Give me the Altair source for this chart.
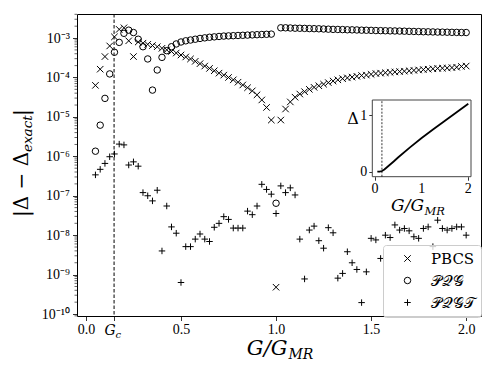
import altair as alt
import pandas as pd

# ---------------- data ----------------
G = [0.05, 0.075, 0.1, 0.125, 0.15, 0.175, 0.2, 0.225, 0.25, 0.275,
     0.3, 0.325, 0.35, 0.375, 0.4, 0.425, 0.45, 0.475, 0.5, 0.525,
     0.55, 0.575, 0.6, 0.625, 0.65, 0.675, 0.7, 0.725, 0.75, 0.775,
     0.8, 0.825, 0.85, 0.875, 0.9, 0.925, 0.95, 0.975, 1.0, 1.025,
     1.05, 1.075, 1.1, 1.125, 1.15, 1.175, 1.2, 1.225, 1.25, 1.275,
     1.3, 1.325, 1.35, 1.375, 1.4, 1.425, 1.45, 1.475, 1.5, 1.525,
     1.55, 1.575, 1.6, 1.625, 1.65, 1.675, 1.7, 1.725, 1.75, 1.775,
     1.8, 1.825, 1.85, 1.875, 1.9, 1.925, 1.95, 1.975, 2.0]

# log10 of |Delta - Delta_exact|
pbcs_log10 = [-4.20, -3.79, -3.47, -3.20, -2.97, -2.78, -2.74, -3.07, -3.47, -3.10,
              -3.13, -3.16, -3.19, -3.22, -3.26, -3.30, -3.34, -3.38, -3.43, -3.48,
              -3.53, -3.59, -3.65, -3.71, -3.77, -3.83, -3.89, -3.94, -4.00, -4.06,
              -4.12, -4.19, -4.26, -4.34, -4.44, -4.57, -4.76, -5.08, -9.32, -5.08,
              -4.80, -4.62, -4.50, -4.42, -4.36, -4.30, -4.25, -4.21, -4.17, -4.13,
              -4.09, -4.06, -4.03, -4.01, -3.99, -3.97, -3.95, -3.94, -3.92, -3.90,
              -3.89, -3.88, -3.87, -3.86, -3.85, -3.84, -3.83, -3.82, -3.81, -3.80,
              -3.79, -3.78, -3.77, -3.765, -3.76, -3.75, -3.74, -3.72, -3.71]

pqg_log10 = [-5.87, -5.21, -4.53, -3.91, -3.36, -3.11, -2.88, -2.80, -2.86, -3.03,
             -3.22, -3.53, -4.32, -3.81, -3.49, -3.32, -3.22, -3.15, -3.10, -3.07,
             -3.05, -3.03, -3.01, -2.995, -2.98, -2.97, -2.96, -2.95, -2.945, -2.94,
             -2.935, -2.93, -2.925, -2.92, -2.915, -2.91, -2.905, -2.90, -7.19, -2.74,
             -2.74, -2.745, -2.75, -2.752, -2.755, -2.76, -2.762, -2.765, -2.77, -2.775,
             -2.78, -2.782, -2.785, -2.79, -2.792, -2.795, -2.80, -2.802, -2.805, -2.81,
             -2.812, -2.815, -2.818, -2.82, -2.823, -2.826, -2.83, -2.833, -2.836, -2.84,
             -2.842, -2.845, -2.848, -2.85, -2.852, -2.855, -2.857, -2.86, -2.86]

pqgt_log10 = [-6.47, -6.33, -6.18, -6.01, -5.94, -5.69, -5.71, -6.22, -6.14, -6.25,
              -6.92, -7.00, -7.13, -6.86, -8.40, -7.26, -7.79, -7.95, -9.20, -8.29,
              -8.29, -8.10, -7.97, -8.10, -8.16, -7.80, -7.70, -7.53, -7.60, -7.82,
              -7.82, -7.82, -7.39, -7.48, -7.26, -6.71, -6.84, -6.96, -7.45, -6.75,
              -6.92, -6.80, -6.98, -8.10, -9.11, -7.87, -7.77, -8.14, -8.33, -7.81,
              -7.94, -9.09, -8.97, -8.42, -8.70, -8.87, -9.71, -8.93, -8.08, -8.12,
              -8.59, -8.00, -8.06, -7.74, -7.87, -7.83, -7.89, -8.04, -8.08, -7.83,
              -7.79, -8.29, -7.62, -7.83, -7.87, -7.83, -7.79, -7.79, -8.00]

series_names = ["PBCS", "𝒫𝒬𝒢", "𝒫𝒬𝒢𝒯"]

inset_G = [0.05, 0.10, 0.15, 0.20, 0.25, 0.30, 0.40, 0.50, 0.75, 1.00, 1.25, 1.50, 1.75, 2.00]
inset_delta = [0.0, 0.003, 0.012, 0.04, 0.075, 0.11, 0.18, 0.255, 0.43, 0.595, 0.75, 0.90, 1.05, 1.20]

Gc = 0.148
x_tick_values = [0.0, 0.5, 1.0, 1.5, 2.0]
y_exponents = [-10, -9, -8, -7, -6, -5, -4, -3]
inset_x_ticks = [0, 1, 2]
inset_y_ticks = [0, 1]

# ---------------- build tables ----------------
rows = []
for name, vals in zip(series_names, [pbcs_log10, pqg_log10, pqgt_log10]):
    for g, v in zip(G, vals):
        rows.append({"G": g, "err": 10.0 ** v, "series": name})
df = pd.DataFrame(rows)
inset_df = pd.DataFrame({"G": inset_G, "D": inset_delta})
one = pd.DataFrame({"a": [0]})

X_PATH = "M-1,-1L1,1M-1,1L1,-1"
PLUS_PATH = "M-1,0L1,0M0,-1L0,1"

XD = [-0.047, 2.078]
YD = [10 ** -10.05, 10 ** -2.39]
xs = alt.Scale(domain=XD, nice=False, zero=False)
ys = alt.Scale(type="log", domain=YD, nice=False)

minor_vals = [m * 10.0 ** e for e in range(-11, -2) for m in range(2, 10)
              if YD[0] <= m * 10.0 ** e <= YD[1]]

NUM_FONT = "Liberation Serif"
TXT_FONT = "DejaVu Serif"

sup = ["⁻¹⁰", "⁻⁹", "⁻⁸", "⁻⁷", "⁻⁶", "⁻⁵", "⁻⁴", "⁻³"]
y_label_expr = "'10' + [" + ",".join("'" + s + "'" for s in sup) + "][round(log(datum.value)/LN10) + 10]"
x_label_expr = "abs(datum.value - %g) < 0.01 ? '' : format(datum.value, '.1f')" % Gc

axis_common = dict(domain=False, grid=False, tickColor="black", tickWidth=0.8,
                   labelColor="black", labelFont=NUM_FONT, title=None, labelOverlap=False)

X_AXIS = alt.Axis(orient="bottom", values=[0.0, Gc] + x_tick_values[1:], labelExpr=x_label_expr,
                  tickSize=4.5, labelFontSize=14, labelPadding=1.5, **axis_common)
Y_AXIS = alt.Axis(orient="left", values=[10.0 ** e for e in y_exponents], labelExpr=y_label_expr,
                  tickSize=4.5, labelFontSize=14, labelPadding=3, **axis_common)

points = alt.Chart(df).mark_point(filled=False, strokeWidth=1, color="black",
                                  opacity=1, size=42).encode(
    x=alt.X("G:Q", scale=xs, axis=X_AXIS),
    y=alt.Y("err:Q", scale=ys, axis=Y_AXIS),
    shape=alt.Shape("series:N",
                    scale=alt.Scale(domain=series_names, range=[X_PATH, "circle", PLUS_PATH]),
                    legend=alt.Legend(title=None, orient="none", legendX=306, legendY=231,
                                      fillColor="rgba(255,255,255,0.8)", strokeColor="#cccccc",
                                      cornerRadius=3, padding=6, symbolStrokeColor="black",
                                      symbolFillColor="transparent", symbolStrokeWidth=1,
                                      symbolSize=42, labelFont=TXT_FONT, labelFontSize=15,
                                      labelColor="black", rowPadding=6, symbolOffset=11,
                                      labelOffset=16, labelLimit=0)),
)

minor_ticks = alt.Chart(pd.DataFrame({"err": minor_vals})).mark_rule(
    color="black", strokeWidth=0.6).encode(
    y=alt.Y("err:Q", scale=ys, axis=Y_AXIS), x=alt.value(0), x2=alt.value(-2.5))

gc_df = pd.DataFrame({"G": [Gc]})
gc_line = alt.Chart(gc_df).mark_rule(
    color="black", strokeWidth=1, strokeDash=[3.5, 2]).encode(
    x=alt.X("G:Q", scale=xs, axis=X_AXIS))


def txt(s, x, y, size, style="normal", angle=0, align="center", baseline="alphabetic",
        font=TXT_FONT):
    return alt.Chart(one).mark_text(text=s, fontSize=size, fontStyle=style, angle=angle,
                                    align=align, baseline=baseline, font=font,
                                    color="black").encode(x=alt.value(x), y=alt.value(y))


# G_c tick label, placed at Gc through the x scale
gc_G = alt.Chart(gc_df).mark_text(
    text="G", fontSize=14, fontStyle="italic", font=TXT_FONT, align="right",
    baseline="alphabetic", dx=1.5, color="black").encode(
    x=alt.X("G:Q", scale=xs, axis=X_AXIS), y=alt.value(321))
gc_c = alt.Chart(gc_df).mark_text(
    text="c", fontSize=10, fontStyle="italic", font=TXT_FONT, align="left",
    baseline="alphabetic", dx=1.5, color="black").encode(
    x=alt.X("G:Q", scale=xs, axis=X_AXIS), y=alt.value(324))

titles = [
    # x title  G/G_MR
    txt("G/G", 210.5, 340.5, 21, style="italic", align="right"),
    txt("MR", 211.5, 344.5, 14, style="italic", align="left"),
    # y title |Delta - Delta_exact|
    txt("|Δ − Δ", -49, 203, 20, angle=270, align="left"),
    txt("exact", -45, 138, 13.5, style="italic", angle=270, align="left"),
    txt("|", -49, 102, 20, angle=270, align="left"),
    # inset titles
    txt("Δ", 276, 105, 16, baseline="middle"),
    txt("G/G", 347, 197, 17, style="italic", align="right"),
    txt("MR", 347.5, 200.5, 11.5, style="italic", align="left"),
]

main = alt.layer(points, minor_ticks, gc_line, gc_G, gc_c, *titles)

# ---------------- inset ----------------
IXD = [-0.058, 2.058]
IYD = [-0.088, 1.265]
ixs = alt.Scale(domain=IXD, range=[295.3, 394], nice=False, zero=False)
iys = alt.Scale(domain=IYD, range=[162.7, 86], nice=False, zero=False)

inset_axis = dict(domain=False, grid=False, tickColor="black", tickWidth=0.8, tickSize=3.5,
                  labelColor="black", labelFont=NUM_FONT, labelFontSize=14, title=None,
                  format="d", labelOverlap=False, labelFlush=False)
IX_AXIS = alt.Axis(orient="bottom", offset=-139.3, values=inset_x_ticks, labels=False,
                   **inset_axis)
IY_AXIS = alt.Axis(orient="left", offset=-295.3, values=inset_y_ticks, labelPadding=2,
                   **inset_axis)

frame = alt.Chart(pd.DataFrame({"G": [IXD[0]], "G2": [IXD[1]], "D": [IYD[0]], "D2": [IYD[1]]})
                  ).mark_rect(fill="white", stroke="#444444", strokeWidth=1).encode(
    x=alt.X("G:Q", scale=ixs, axis=IX_AXIS), x2="G2:Q",
    y=alt.Y("D:Q", scale=iys, axis=IY_AXIS), y2="D2:Q",
)
inset_dash = alt.Chart(pd.DataFrame({"G": [Gc], "D": [IYD[0]], "D2": [IYD[1]]})).mark_rule(
    color="black", strokeWidth=0.8, strokeDash=[2, 1.5]).encode(
    x=alt.X("G:Q", scale=ixs, axis=IX_AXIS), y=alt.Y("D:Q", scale=iys, axis=IY_AXIS), y2="D2:Q")
inset_line = alt.Chart(inset_df).mark_line(color="black", strokeWidth=1.8).encode(
    x=alt.X("G:Q", scale=ixs, axis=IX_AXIS), y=alt.Y("D:Q", scale=iys, axis=IY_AXIS))
inset_xlabels = alt.Chart(pd.DataFrame({"G": inset_x_ticks})).mark_text(
    font=NUM_FONT, fontSize=14, baseline="top", align="center", color="black").encode(
    x=alt.X("G:Q", scale=ixs, axis=IX_AXIS), y=alt.value(167.5),
    text=alt.Text("G:Q", format="d"))

inset = alt.layer(frame, inset_dash, inset_line, inset_xlabels)

chart = alt.layer(main, inset).resolve_scale(
    x="independent", y="independent"
).properties(
    width=404, height=302,
    autosize=alt.AutoSizeParams(type="none"),
    padding={"left": 69, "top": 6, "right": 9, "bottom": 50},
).configure_view(stroke="black", strokeWidth=1)

chart.save("out.html", embed_options={"renderer": "svg", "actions": False})
